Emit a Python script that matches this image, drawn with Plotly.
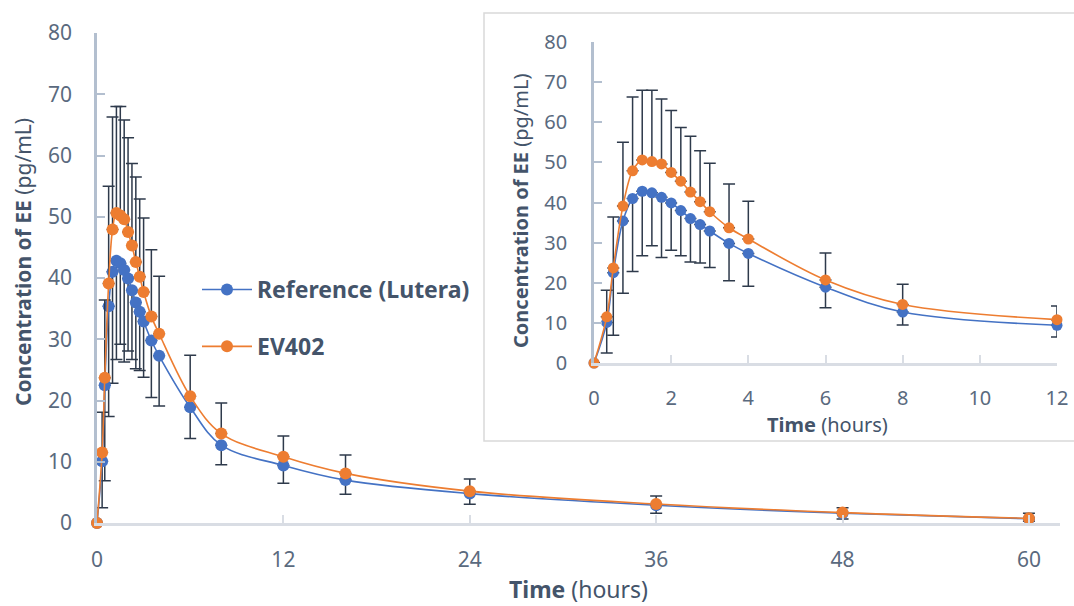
import plotly.graph_objects as go

# ---------------- data ----------------
time_h = [0, 0.33, 0.5, 0.75, 1, 1.25, 1.5, 1.75, 2, 2.25, 2.5, 2.75, 3, 3.5, 4,
          6, 8, 12, 16, 24, 36, 48, 60]
ref_mean = [0, 10.1, 22.5, 35.4, 41.0, 42.8, 42.4, 41.3, 39.9, 38.0, 36.0, 34.5, 32.9, 29.8, 27.3,
            18.9, 12.7, 9.4, 7.0, 4.8, 2.9, 1.6, 0.7]
ev_mean = [0, 11.5, 23.7, 39.1, 47.9, 50.6, 50.2, 49.6, 47.5, 45.3, 42.6, 40.2, 37.7, 33.7, 30.9,
           20.7, 14.6, 10.8, 8.1, 5.2, 3.1, 1.7, 0.77]
# upper end of EV402 error bar, lower end of Reference error bar
ev_upper = [0, 18.1, 36.4, 55.0, 66.3, 68.0, 68.0, 65.8, 62.9, 58.7, 56.5, 52.9, 49.8, 44.6, 40.3,
            27.4, 19.6, 14.2, 11.1, 7.2, 4.4, 2.5, 1.6]
ref_lower = [0, 2.5, 6.9, 17.4, 22.8, 26.7, 29.2, 26.3, 28.1, 26.7, 25.2, 24.9, 23.8, 20.5, 19.1,
             13.8, 9.5, 6.5, 4.7, 3.05, 1.6, 0.65, 0.3]

names = ["Reference (Lutera)", "EV402"]
main_xticks = [0, 12, 24, 36, 48, 60]
inset_xticks = [0, 2, 4, 6, 8, 10, 12]
yticks = [0, 10, 20, 30, 40, 50, 60, 70, 80]
x_title = "<b>Time</b> (hours)"
y_title = "<b>Concentration of EE</b> (pg/mL)"

ev_plus = [round(u - m, 3) for u, m in zip(ev_upper, ev_mean)]
ref_minus = [round(m - l, 3) for m, l in zip(ref_mean, ref_lower)]

inset_idx = [i for i, t in enumerate(time_h) if t <= 12]

BLUE = "#4472C4"
ORANGE = "#ED7D31"
ERR = "#2E3A4B"
TICK = "#5A6A7E"
TITLE = "#44546A"
YLINE = "#B3BFCF"
XLINE = "#D9DDE4"
FONT = "Noto Sans"

W, H = 1074, 606

def px_x(p):
    return p / W

def px_y(p):
    return 1 - p / H

fig = go.Figure()

def add_series(xs, ys, name, color, err, minus, xa, ya, show, msize):
    ed = dict(type="data", symmetric=False, color=ERR, thickness=1.5, width=6)
    if minus:
        ed["array"] = [0] * len(err)
        ed["arrayminus"] = err
    else:
        ed["array"] = err
        ed["arrayminus"] = [0] * len(err)
    fig.add_trace(go.Scatter(
        x=xs, y=ys, name=name, mode="lines+markers",
        line=dict(color=color, width=1.6, shape="spline", smoothing=1.0),
        marker=dict(color=color, size=msize),
        error_y=ed, xaxis=xa, yaxis=ya, showlegend=show, cliponaxis=False,
        legendgroup=name,
    ))

# main
add_series(time_h, ref_mean, names[0], BLUE, ref_minus, True, "x", "y", True, 12)
add_series(time_h, ev_mean, names[1], ORANGE, ev_plus, False, "x", "y", True, 12)
# inset
sub = lambda a: [a[i] for i in inset_idx]
add_series(sub(time_h), sub(ref_mean), names[0], BLUE, sub(ref_minus), True, "x2", "y2", False, 11)
add_series(sub(time_h), sub(ev_mean), names[1], ORANGE, sub(ev_plus), False, "x2", "y2", False, 11)

axis_common = dict(showgrid=False, zeroline=False, showline=True, ticks="inside",
                   automargin=False, ticklen=8, tickwidth=2, linewidth=2.5)

def ann(text, x, y, size, angle=0):
    return dict(text=text, x=px_x(x), y=px_y(y), xref="paper", yref="paper",
                xanchor="center", yanchor="middle", showarrow=False, textangle=angle,
                font=dict(family=FONT, size=size, color=TITLE))

main_tf = dict(family=FONT, size=21, color=TICK)
inset_tf = dict(family=FONT, size=20, color=TICK)

fig.update_layout(
    width=W, height=H,
    margin=dict(l=0, r=0, t=0, b=0),
    paper_bgcolor="white", plot_bgcolor="rgba(0,0,0,0)",
    font=dict(family=FONT, color=TITLE),
    xaxis=dict(domain=[px_x(97), px_x(1060)], range=[0, 62], tickvals=main_xticks,
               linecolor=XLINE, tickcolor=XLINE, ticklabelstandoff=16, anchor="y",
               tickfont=main_tf, **axis_common),
    yaxis=dict(domain=[px_y(523), px_y(33)], range=[0, 80], tickvals=yticks,
               linecolor=YLINE, tickcolor=YLINE, ticklabelstandoff=18, anchor="x",
               tickfont=main_tf, **axis_common),
    xaxis2=dict(domain=[px_x(594), px_x(1057)], range=[0, 12], tickvals=inset_xticks,
                linecolor=XLINE, tickcolor=XLINE, ticklabelstandoff=15, anchor="y2",
                tickfont=inset_tf, **axis_common),
    yaxis2=dict(domain=[px_y(363), px_y(42)], range=[0, 80], tickvals=yticks,
                linecolor=YLINE, tickcolor=YLINE, ticklabelstandoff=20, anchor="x2",
                tickfont=inset_tf, **axis_common),
    legend=dict(x=px_x(197), y=px_y(268), xanchor="left", yanchor="top",
                font=dict(family=FONT, size=23, color=TITLE, weight="bold"),
                bgcolor="rgba(0,0,0,0)", tracegroupgap=24, traceorder="grouped",
                itemwidth=50),
    annotations=[
        ann(x_title, 578, 589, 23),
        ann(y_title, 23, 262, 21, -90),
        ann(x_title, 827, 424, 20),
        ann(y_title, 521, 211, 20, -90),
    ],
    shapes=[dict(type="rect", xref="paper", yref="paper",
                 x0=px_x(484), x1=px_x(1080), y0=px_y(441), y1=px_y(13),
                 line=dict(color="#D9D9D9", width=1.5), fillcolor="white", layer="below")],
)

fig.write_html("out.html")
